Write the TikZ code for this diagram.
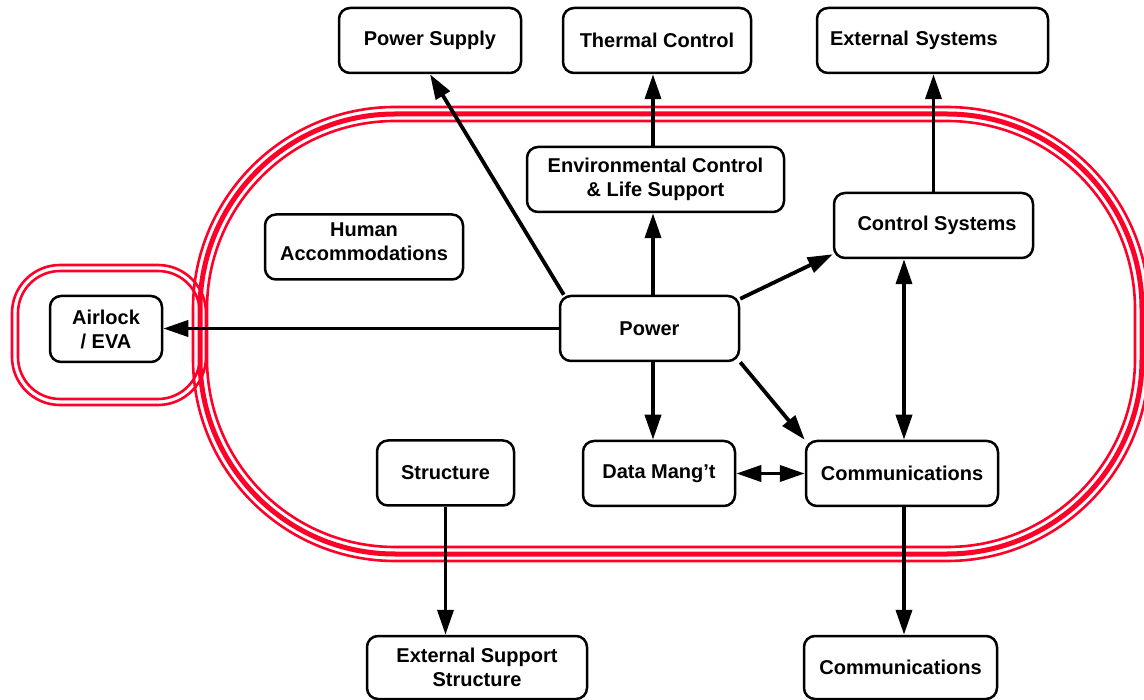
\documentclass[tikz,border=0pt]{standalone}
\usepackage{fontspec}
\setmainfont{Liberation Sans}
\usetikzlibrary{arrows.meta}
\definecolor{ringred}{RGB}{255,0,40}
\tikzset{
  lbl/.style={inner sep=0pt, align=center, font=\fontsize{20}{24}\selectfont\bfseries},
  blk/.style={lbl, draw=black, line width=2.5pt, rounded corners=11pt, fill=white},
  tip/.style={Triangle[length=25pt,width=16pt]},
  arr/.style={draw=black, line width=3.8pt, -{Triangle[length=25pt,width=16pt]}},
  darr/.style={draw=black, line width=3.8pt, {Triangle[length=25pt,width=16pt]}-{Triangle[length=25pt,width=16pt]}},
  ringthin/.style={draw=ringred, line width=2.6pt},
  ringthick/.style={draw=ringred, line width=5pt},
}
\begin{document}
\begin{tikzpicture}[x=1pt, y=-1pt]
\useasboundingbox (0,0) rectangle (1144,700);

% station boundary: thin-thick-thin ring
\draw[ringthin]  [rounded corners=202pt] (193,107) rectangle (1149,561);
\draw[ringthick] [rounded corners=195pt] (200,114) rectangle (1142,554);
\draw[ringthin]  [rounded corners=188pt] (207,121) rectangle (1135,547);

% airlock module boundary: double line
\draw[ringthin] [rounded corners=48pt] (12,265) rectangle (206,405);
\draw[ringthin] [rounded corners=42pt] (18,271) rectangle (200,399);

% subsystem boxes
\node[blk, minimum width=182pt, minimum height=65pt] (PS)  at (430,40.5)   {Power Supply};
\node[blk, minimum width=188pt, minimum height=65pt] (TC)  at (657,40.5)   {Thermal Control};
\node[blk, minimum width=231pt, minimum height=65pt, text width=205pt, align=left] (ES) at (932.5,40.5) {External Systems};
\node[blk, minimum width=257pt, minimum height=65pt] (E)   at (655.5,179.5) {Environmental Control\\ \& Life Support};
\node[blk, minimum width=198pt, minimum height=65pt] (HA)  at (364,247)    {};
\node[lbl] at ([yshift=5pt]HA.center) {Human\\ Accommodations};
\node[blk, minimum width=199pt, minimum height=65pt] (CS)  at (933.5,225.5) {\hspace{7pt}Control Systems};
\node[blk, minimum width=112pt, minimum height=66pt] (AL)  at (106,329)    {Airlock\\ / EVA};
\node[blk, minimum width=179pt, minimum height=65pt] (P)   at (649.5,328.5) {Power};
\node[blk, minimum width=152pt, minimum height=65pt] (DM)  at (659,473.5)  {Data Mang’t};
\node[blk, minimum width=192pt, minimum height=65pt] (C)   at (902,473.5)  {Communications};
\node[blk, minimum width=137pt, minimum height=65pt] (S)   at (445.5,473)  {Structure};
\node[blk, minimum width=220pt, minimum height=63pt] (ESS) at (477,667.5)  {External Support\\ Structure};
\node[blk, minimum width=193pt, minimum height=63pt] (C2)  at (900.5,667.5) {Communications};

% connections
\draw[arr] ([xshift=5pt]P.north west) -- (PS.south);
\draw[arr] ([xshift=3.5pt]P.north) -- ([xshift=3.5pt]P.north |- E.south);
\draw[arr] ([xshift=-2.5pt]E.north) -- ([xshift=-2.5pt]E.north |- TC.south);
\draw[arr] (P.west) -- (P.west -| AL.east);
\draw[arr] ([xshift=3.5pt]P.south) -- ([xshift=3.5pt]P.south |- DM.north);
\draw[arr] ([yshift=-4pt]P.north east) -- ([yshift=5pt]CS.south west);
\draw[arr] (P.south east) -- (C.north west);
\draw[arr] (CS.north) -- (CS.north |- ES.south);
\draw[darr] ([xshift=2pt]C.north |- CS.south) -- ([xshift=2pt]C.north);
\draw[darr] (DM.east) -- (C.west);
\draw[arr] (S.south) -- (S.south |- ESS.north);
\draw[arr] ([xshift=2pt]C.south) -- ([xshift=2pt]C.south |- C2.north);
\end{tikzpicture}
\end{document}
